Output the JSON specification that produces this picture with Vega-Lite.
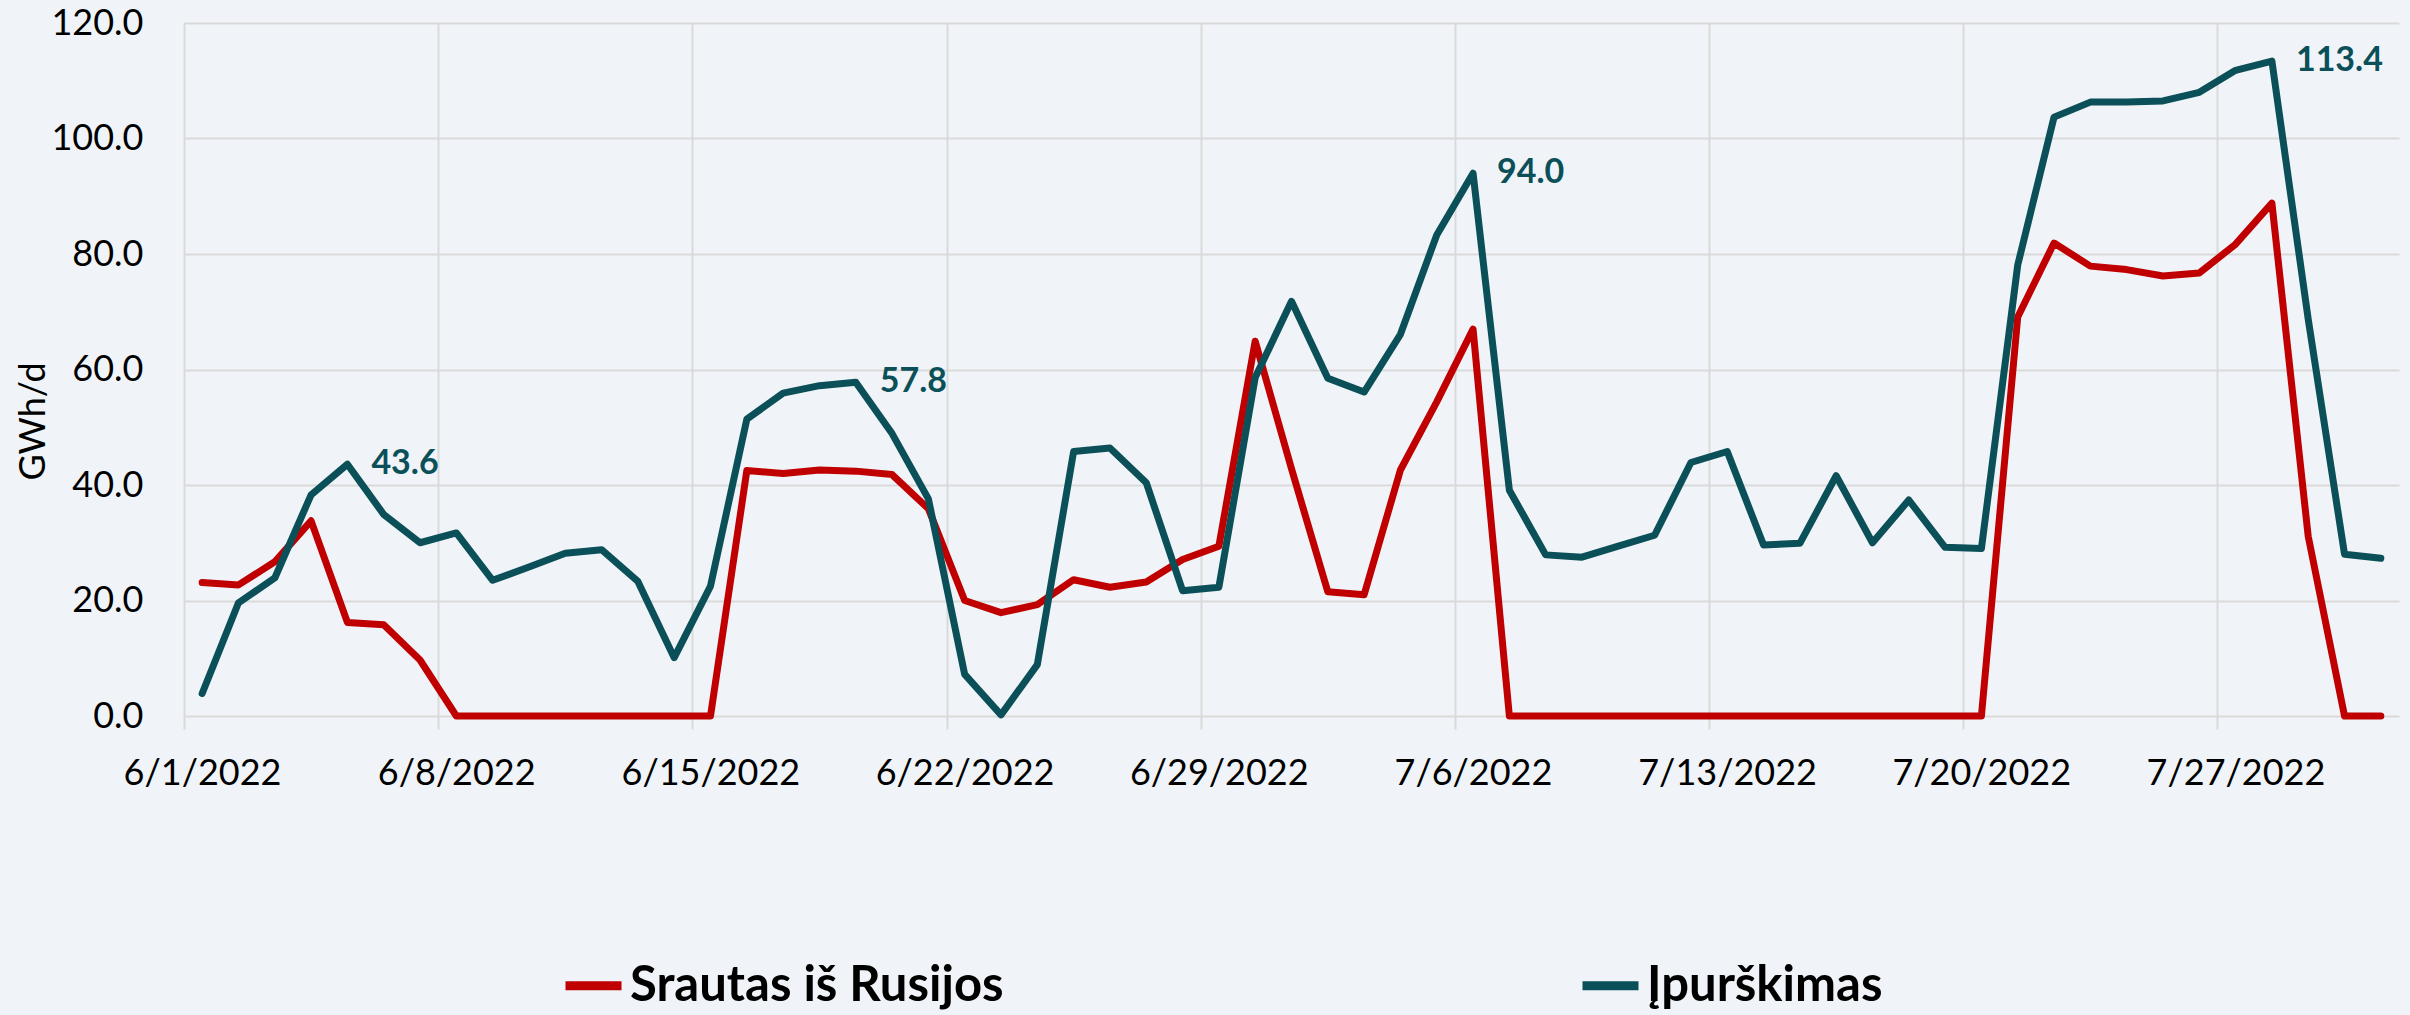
{
  "$schema": "https://vega.github.io/schema/vega-lite/v6.json",
  "width": 2215,
  "height": 693,
  "autosize": {"type": "none"},
  "padding": {"left": 184, "top": 23, "right": 11, "bottom": 299},
  "background": "#F0F4F8",
  "config": {"view": {"stroke": null}, "font": "Lato"},
  "data": {"values": [
    {"date":"2022-06-01T00:00:00","series":"Srautas iš Rusijos","value":23.1},
    {"date":"2022-06-02T00:00:00","series":"Srautas iš Rusijos","value":22.7},
    {"date":"2022-06-03T00:00:00","series":"Srautas iš Rusijos","value":26.7},
    {"date":"2022-06-04T00:00:00","series":"Srautas iš Rusijos","value":33.8},
    {"date":"2022-06-05T00:00:00","series":"Srautas iš Rusijos","value":16.2},
    {"date":"2022-06-06T00:00:00","series":"Srautas iš Rusijos","value":15.8},
    {"date":"2022-06-07T00:00:00","series":"Srautas iš Rusijos","value":9.7},
    {"date":"2022-06-08T00:00:00","series":"Srautas iš Rusijos","value":0},
    {"date":"2022-06-09T00:00:00","series":"Srautas iš Rusijos","value":0},
    {"date":"2022-06-10T00:00:00","series":"Srautas iš Rusijos","value":0},
    {"date":"2022-06-11T00:00:00","series":"Srautas iš Rusijos","value":0},
    {"date":"2022-06-12T00:00:00","series":"Srautas iš Rusijos","value":0},
    {"date":"2022-06-13T00:00:00","series":"Srautas iš Rusijos","value":0},
    {"date":"2022-06-14T00:00:00","series":"Srautas iš Rusijos","value":0},
    {"date":"2022-06-15T00:00:00","series":"Srautas iš Rusijos","value":0},
    {"date":"2022-06-16T00:00:00","series":"Srautas iš Rusijos","value":42.5},
    {"date":"2022-06-17T00:00:00","series":"Srautas iš Rusijos","value":42.0},
    {"date":"2022-06-18T00:00:00","series":"Srautas iš Rusijos","value":42.6},
    {"date":"2022-06-19T00:00:00","series":"Srautas iš Rusijos","value":42.4},
    {"date":"2022-06-20T00:00:00","series":"Srautas iš Rusijos","value":41.8},
    {"date":"2022-06-21T00:00:00","series":"Srautas iš Rusijos","value":35.9},
    {"date":"2022-06-22T00:00:00","series":"Srautas iš Rusijos","value":20.0},
    {"date":"2022-06-23T00:00:00","series":"Srautas iš Rusijos","value":17.9},
    {"date":"2022-06-24T00:00:00","series":"Srautas iš Rusijos","value":19.3},
    {"date":"2022-06-25T00:00:00","series":"Srautas iš Rusijos","value":23.6},
    {"date":"2022-06-26T00:00:00","series":"Srautas iš Rusijos","value":22.3},
    {"date":"2022-06-27T00:00:00","series":"Srautas iš Rusijos","value":23.2},
    {"date":"2022-06-28T00:00:00","series":"Srautas iš Rusijos","value":27.1},
    {"date":"2022-06-29T00:00:00","series":"Srautas iš Rusijos","value":29.4},
    {"date":"2022-06-30T00:00:00","series":"Srautas iš Rusijos","value":64.9},
    {"date":"2022-07-01T00:00:00","series":"Srautas iš Rusijos","value":42.8},
    {"date":"2022-07-02T00:00:00","series":"Srautas iš Rusijos","value":21.5},
    {"date":"2022-07-03T00:00:00","series":"Srautas iš Rusijos","value":21.0},
    {"date":"2022-07-04T00:00:00","series":"Srautas iš Rusijos","value":42.6},
    {"date":"2022-07-05T00:00:00","series":"Srautas iš Rusijos","value":54.4},
    {"date":"2022-07-06T00:00:00","series":"Srautas iš Rusijos","value":67.0},
    {"date":"2022-07-07T00:00:00","series":"Srautas iš Rusijos","value":0},
    {"date":"2022-07-08T00:00:00","series":"Srautas iš Rusijos","value":0},
    {"date":"2022-07-09T00:00:00","series":"Srautas iš Rusijos","value":0},
    {"date":"2022-07-10T00:00:00","series":"Srautas iš Rusijos","value":0},
    {"date":"2022-07-11T00:00:00","series":"Srautas iš Rusijos","value":0},
    {"date":"2022-07-12T00:00:00","series":"Srautas iš Rusijos","value":0},
    {"date":"2022-07-13T00:00:00","series":"Srautas iš Rusijos","value":0},
    {"date":"2022-07-14T00:00:00","series":"Srautas iš Rusijos","value":0},
    {"date":"2022-07-15T00:00:00","series":"Srautas iš Rusijos","value":0},
    {"date":"2022-07-16T00:00:00","series":"Srautas iš Rusijos","value":0},
    {"date":"2022-07-17T00:00:00","series":"Srautas iš Rusijos","value":0},
    {"date":"2022-07-18T00:00:00","series":"Srautas iš Rusijos","value":0},
    {"date":"2022-07-19T00:00:00","series":"Srautas iš Rusijos","value":0},
    {"date":"2022-07-20T00:00:00","series":"Srautas iš Rusijos","value":0},
    {"date":"2022-07-21T00:00:00","series":"Srautas iš Rusijos","value":69.1},
    {"date":"2022-07-22T00:00:00","series":"Srautas iš Rusijos","value":81.9},
    {"date":"2022-07-23T00:00:00","series":"Srautas iš Rusijos","value":77.9},
    {"date":"2022-07-24T00:00:00","series":"Srautas iš Rusijos","value":77.3},
    {"date":"2022-07-25T00:00:00","series":"Srautas iš Rusijos","value":76.2},
    {"date":"2022-07-26T00:00:00","series":"Srautas iš Rusijos","value":76.7},
    {"date":"2022-07-27T00:00:00","series":"Srautas iš Rusijos","value":81.7},
    {"date":"2022-07-28T00:00:00","series":"Srautas iš Rusijos","value":88.8},
    {"date":"2022-07-29T00:00:00","series":"Srautas iš Rusijos","value":31.1},
    {"date":"2022-07-30T00:00:00","series":"Srautas iš Rusijos","value":0},
    {"date":"2022-07-31T00:00:00","series":"Srautas iš Rusijos","value":0},
    {"date":"2022-06-01T00:00:00","series":"Įpurškimas","value":3.9},
    {"date":"2022-06-02T00:00:00","series":"Įpurškimas","value":19.6},
    {"date":"2022-06-03T00:00:00","series":"Įpurškimas","value":23.9},
    {"date":"2022-06-04T00:00:00","series":"Įpurškimas","value":38.3},
    {"date":"2022-06-05T00:00:00","series":"Įpurškimas","value":43.6},
    {"date":"2022-06-06T00:00:00","series":"Įpurškimas","value":34.9},
    {"date":"2022-06-07T00:00:00","series":"Įpurškimas","value":30.0},
    {"date":"2022-06-08T00:00:00","series":"Įpurškimas","value":31.7},
    {"date":"2022-06-09T00:00:00","series":"Įpurškimas","value":23.5},
    {"date":"2022-06-10T00:00:00","series":"Įpurškimas","value":25.8},
    {"date":"2022-06-11T00:00:00","series":"Įpurškimas","value":28.2},
    {"date":"2022-06-12T00:00:00","series":"Įpurškimas","value":28.8},
    {"date":"2022-06-13T00:00:00","series":"Įpurškimas","value":23.3},
    {"date":"2022-06-14T00:00:00","series":"Įpurškimas","value":10.1},
    {"date":"2022-06-15T00:00:00","series":"Įpurškimas","value":22.5},
    {"date":"2022-06-16T00:00:00","series":"Įpurškimas","value":51.4},
    {"date":"2022-06-17T00:00:00","series":"Įpurškimas","value":55.9},
    {"date":"2022-06-18T00:00:00","series":"Įpurškimas","value":57.2},
    {"date":"2022-06-19T00:00:00","series":"Įpurškimas","value":57.8},
    {"date":"2022-06-20T00:00:00","series":"Įpurškimas","value":48.9},
    {"date":"2022-06-21T00:00:00","series":"Įpurškimas","value":37.6},
    {"date":"2022-06-22T00:00:00","series":"Įpurškimas","value":7.2},
    {"date":"2022-06-23T00:00:00","series":"Įpurškimas","value":0.2},
    {"date":"2022-06-24T00:00:00","series":"Įpurškimas","value":8.9},
    {"date":"2022-06-25T00:00:00","series":"Įpurškimas","value":45.8},
    {"date":"2022-06-26T00:00:00","series":"Įpurškimas","value":46.4},
    {"date":"2022-06-27T00:00:00","series":"Įpurškimas","value":40.4},
    {"date":"2022-06-28T00:00:00","series":"Įpurškimas","value":21.7},
    {"date":"2022-06-29T00:00:00","series":"Įpurškimas","value":22.3},
    {"date":"2022-06-30T00:00:00","series":"Įpurškimas","value":58.6},
    {"date":"2022-07-01T00:00:00","series":"Įpurškimas","value":71.8},
    {"date":"2022-07-02T00:00:00","series":"Įpurškimas","value":58.5},
    {"date":"2022-07-03T00:00:00","series":"Įpurškimas","value":56.1},
    {"date":"2022-07-04T00:00:00","series":"Įpurškimas","value":66.1},
    {"date":"2022-07-05T00:00:00","series":"Įpurškimas","value":83.3},
    {"date":"2022-07-06T00:00:00","series":"Įpurškimas","value":94.0},
    {"date":"2022-07-07T00:00:00","series":"Įpurškimas","value":39.1},
    {"date":"2022-07-08T00:00:00","series":"Įpurškimas","value":27.9},
    {"date":"2022-07-09T00:00:00","series":"Įpurškimas","value":27.5},
    {"date":"2022-07-10T00:00:00","series":"Įpurškimas","value":29.4},
    {"date":"2022-07-11T00:00:00","series":"Įpurškimas","value":31.3},
    {"date":"2022-07-12T00:00:00","series":"Įpurškimas","value":43.9},
    {"date":"2022-07-13T00:00:00","series":"Įpurškimas","value":45.8},
    {"date":"2022-07-14T00:00:00","series":"Įpurškimas","value":29.6},
    {"date":"2022-07-15T00:00:00","series":"Įpurškimas","value":29.9},
    {"date":"2022-07-16T00:00:00","series":"Įpurškimas","value":41.6},
    {"date":"2022-07-17T00:00:00","series":"Įpurškimas","value":30.0},
    {"date":"2022-07-18T00:00:00","series":"Įpurškimas","value":37.4},
    {"date":"2022-07-19T00:00:00","series":"Įpurškimas","value":29.2},
    {"date":"2022-07-20T00:00:00","series":"Įpurškimas","value":29.0},
    {"date":"2022-07-21T00:00:00","series":"Įpurškimas","value":78.1},
    {"date":"2022-07-22T00:00:00","series":"Įpurškimas","value":103.7},
    {"date":"2022-07-23T00:00:00","series":"Įpurškimas","value":106.3},
    {"date":"2022-07-24T00:00:00","series":"Įpurškimas","value":106.3},
    {"date":"2022-07-25T00:00:00","series":"Įpurškimas","value":106.5},
    {"date":"2022-07-26T00:00:00","series":"Įpurškimas","value":108.0},
    {"date":"2022-07-27T00:00:00","series":"Įpurškimas","value":111.8},
    {"date":"2022-07-28T00:00:00","series":"Įpurškimas","value":113.4},
    {"date":"2022-07-29T00:00:00","series":"Įpurškimas","value":68.7},
    {"date":"2022-07-30T00:00:00","series":"Įpurškimas","value":28.0},
    {"date":"2022-07-31T00:00:00","series":"Įpurškimas","value":27.3}
  ]},
  "layer": [
    {
      "mark": {"type": "line", "strokeWidth": 7, "strokeCap": "round", "strokeJoin": "round"},
      "encoding": {
        "x": {
          "field": "date", "type": "temporal", "timeUnit": "yearmonthdate", "bandPosition": 0.5,
          "scale": {"domain": [{"year": 2022, "month": 6, "date": 1}, {"year": 2022, "month": 8, "date": 1}]},
          "axis": {
            "values": [
              {"year": 2022, "month": 6, "date": 1},
              {"year": 2022, "month": 6, "date": 8},
              {"year": 2022, "month": 6, "date": 15},
              {"year": 2022, "month": 6, "date": 22},
              {"year": 2022, "month": 6, "date": 29},
              {"year": 2022, "month": 7, "date": 6},
              {"year": 2022, "month": 7, "date": 13},
              {"year": 2022, "month": 7, "date": 20},
              {"year": 2022, "month": 7, "date": 27}
            ],
            "format": "%-m/%-d/%Y",
            "title": null,
            "grid": true, "gridColor": "#D9D9D9", "gridWidth": 2,
            "domain": false,
            "ticks": true, "tickSize": 13, "tickColor": "#D9D9D9", "tickWidth": 2,
            "labelFont": "Lato", "labelFontSize": 36, "labelColor": "#000000",
            "labelPadding": 27, "labelOffset": 18, "labelFlush": false, "labelOverlap": false
          }
        },
        "y": {
          "field": "value", "type": "quantitative",
          "scale": {"domain": [0, 120]},
          "axis": {
            "values": [0, 20, 40, 60, 80, 100, 120],
            "format": ".1f",
            "title": "GWh/d",
            "grid": true, "gridColor": "#D9D9D9", "gridWidth": 2,
            "domain": false, "ticks": false,
            "labelFont": "Lato", "labelFontSize": 36, "labelColor": "#000000", "labelPadding": 41,
            "titleFont": "Lato", "titleFontSize": 36, "titleFontWeight": "normal", "titleColor": "#000000",
            "titleX": -151, "titleY": 398, "titleAngle": -90, "titleAlign": "center", "titleBaseline": "middle"
          }
        },
        "color": {
          "field": "series", "type": "nominal",
          "scale": {"domain": ["Srautas iš Rusijos", "Įpurškimas"], "range": ["#C00000", "#0B5058"]},
          "legend": {
            "title": null, "orient": "none", "legendX": 377, "legendY": 930, "direction": "horizontal",
            "symbolType": "stroke", "symbolSize": 3136, "symbolStrokeWidth": 9,
            "labelFont": "Lato", "labelFontSize": 49, "labelFontWeight": "bold", "labelColor": "#000000",
            "labelOffset": 4, "columnPadding": 560, "labelLimit": 0, "padding": 0
          }
        }
      }
    },
    {
      "transform": [
        {"filter": {"field": "series", "equal": "Įpurškimas"}},
        {"filter": {"field": "value", "oneOf": [43.6, 57.8, 94.0, 113.4]}}
      ],
      "mark": {"type": "text", "align": "left", "baseline": "middle", "dx": 24, "font": "Lato", "fontSize": 34, "fontWeight": "bold", "color": "#0B5058"},
      "encoding": {
        "x": {"field": "date", "type": "temporal", "timeUnit": "yearmonthdate", "bandPosition": 0.5},
        "y": {"field": "value", "type": "quantitative"},
        "text": {"field": "value", "type": "quantitative", "format": ".1f"}
      }
    }
  ]
}
